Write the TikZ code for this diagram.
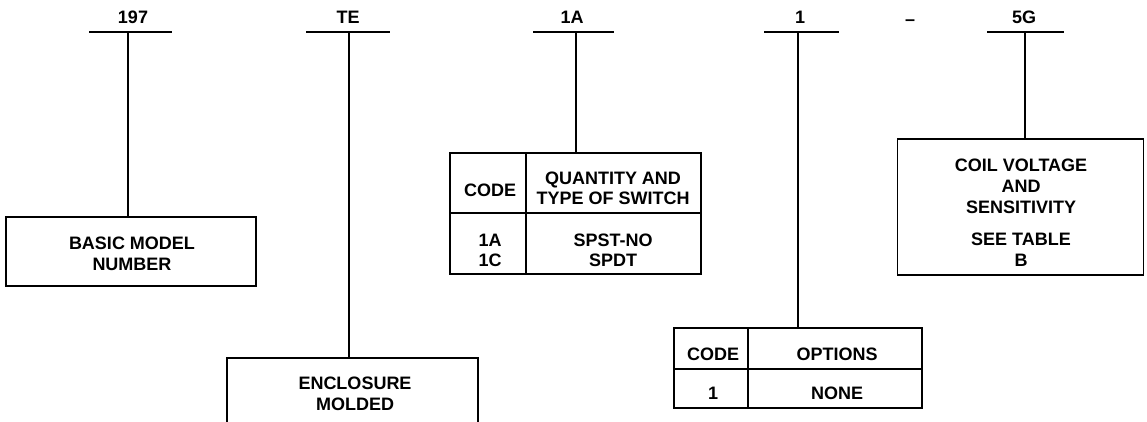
\documentclass[tikz,border=0pt]{standalone}
\usepackage{fontspec}
\setmainfont{Liberation Sans}
\begin{document}
\begin{tikzpicture}[x=1pt,y=-1pt,
  line width=1.1pt,
  txt/.style={font=\fontsize{18}{21}\selectfont\bfseries, align=center, inner sep=0pt},
  tabtxt/.style={font=\fontsize{18}{20}\selectfont\bfseries, align=center, inner sep=0pt},
  frame/.style={draw, line width=1.1pt, inner sep=0pt},
  bar/.style={line width=1.4pt}]
\useasboundingbox (0,0) rectangle (1147,422);
\clip (0,0) rectangle (1147,422);

% top labels
\node[txt] (l1) at (133,17) {197};
\node[txt] (l2) at (348,17) {TE};
\node[txt] (l3) at (572,17) {1A};
\node[txt] (l4) at (800,17) {1};
\node[txt, anchor=base] (dash) at (910,26) {–};
\node[txt] (l5) at (1024,17) {5G};

% bars
\coordinate (b1l) at (89,32);  \coordinate (b1r) at (172,32); \coordinate (b1) at (128,32);
\coordinate (b2l) at (306,32); \coordinate (b2r) at (390,32); \coordinate (b2) at (349,32);
\coordinate (b3l) at (533,32); \coordinate (b3r) at (614,32); \coordinate (b3) at (576,32);
\coordinate (b4l) at (764,32); \coordinate (b4r) at (839,32); \coordinate (b4) at (798,32);
\coordinate (b5l) at (987,32); \coordinate (b5r) at (1064,32); \coordinate (b5) at (1025,32);
\foreach \i in {1,...,5} \draw[bar] (b\i l) -- (b\i r);

% BASIC MODEL NUMBER
\node[frame, minimum width=250pt, minimum height=69pt] (basic) at (131,251.5) {};
\node[txt] (basict) at (132,254) {BASIC MODEL\\NUMBER};
\draw (b1) -- (b1 |- basic.north);

% ENCLOSURE MOLDED
\node[frame, minimum width=251pt, minimum height=82pt] (encl) at (352.5,399) {};
\node[txt] (enclt) at (355,394) {ENCLOSURE\\MOLDED};
\draw (b2) -- (b2 |- encl.north);

% switch table
\node[frame, minimum width=76pt, minimum height=60pt] (sw11) at (488,183) {};
\node[frame, minimum width=175pt, minimum height=60pt] (sw12) at (613.5,183) {};
\node[frame, minimum width=76pt, minimum height=61pt] (sw21) at (488,243.5) {};
\node[frame, minimum width=175pt, minimum height=61pt] (sw22) at (613.5,243.5) {};
\node[tabtxt] (sw11t) at (490,190) {CODE};
\node[tabtxt] (sw12t) at (613,188) {QUANTITY AND\\TYPE OF SWITCH};
\node[tabtxt] (sw21t) at (490,250) {1A\\1C};
\node[tabtxt] (sw22t) at (613,250) {SPST-NO\\SPDT};
\draw (b3) -- (b3 |- sw12.north);

% options table
\node[frame, minimum width=74pt, minimum height=41pt] (op11) at (711,348.5) {};
\node[frame, minimum width=174pt, minimum height=41pt] (op12) at (835,348.5) {};
\node[frame, minimum width=74pt, minimum height=39pt] (op21) at (711,388.5) {};
\node[frame, minimum width=174pt, minimum height=39pt] (op22) at (835,388.5) {};
\node[tabtxt] (op11t) at (713,354) {CODE};
\node[tabtxt] (op12t) at (837,354) {OPTIONS};
\node[tabtxt] (op21t) at (713,393) {1};
\node[tabtxt] (op22t) at (837,393) {NONE};
\draw (b4) -- (b4 |- op12.north);

% coil box
\node[frame, minimum width=246pt, minimum height=136pt] (coil) at (1020.5,207) {};
\node[txt] (coilt) at (1021,213) {COIL VOLTAGE\\AND\\SENSITIVITY\\[11pt]SEE TABLE\\B};
\draw (b5) -- (b5 |- coil.north);
\end{tikzpicture}
\end{document}
